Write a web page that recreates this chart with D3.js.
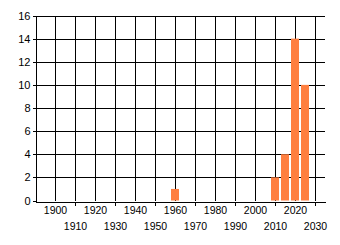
<!DOCTYPE html>
<html>
<head>
<meta charset="utf-8">
<script src="https://cdn.jsdelivr.net/npm/d3@7"></script>
<style>
  body { margin: 0; background: #fff; }
</style>
</head>
<body>
<div id="chart"></div>
<script>
// bar data
const years = [1960, 2010, 2015, 2020, 2025];
const counts = [1, 2, 4, 14, 10];

const yTicks = [0, 2, 4, 6, 8, 10, 12, 14, 16];
const xTicks = [1900, 1910, 1920, 1930, 1940, 1950, 1960, 1970, 1980, 1990, 2000, 2010, 2020, 2030];

const width = 340, height = 245;
const barYears = 4;
const font = "Liberation Sans, Arial, sans-serif";

let svg = d3.select("#chart")
  .append("svg")
  .attr("width", width)
  .attr("height", height);

let x = d3.scaleLinear().domain([1890, 2035]).range([35, 325]);
let y = d3.scaleLinear().domain([0, 16]).range([200.5, 15.5]);

// grid
let grid = svg.append("g").attr("shape-rendering", "crispEdges");
grid.selectAll("line.h")
  .data(yTicks.slice(1))
  .join("line")
  .attr("x1", x(1890)).attr("x2", x(2035))
  .attr("y1", d => Math.round(y(d)) + 0.5).attr("y2", d => Math.round(y(d)) + 0.5)
  .attr("stroke", "#000");
grid.selectAll("line.v")
  .data(xTicks)
  .join("line")
  .attr("x1", d => Math.round(x(d)) + 0.5).attr("x2", d => Math.round(x(d)) + 0.5)
  .attr("y1", y(16)).attr("y2", y(0))
  .attr("stroke", "#000");

// bars
svg.append("g")
  .selectAll("rect")
  .data(years)
  .join("rect")
  .attr("x", d => x(d - barYears / 2))
  .attr("width", x(barYears) - x(0))
  .attr("y", (d, i) => y(counts[i]))
  .attr("height", (d, i) => y(0) - y(counts[i]))
  .attr("fill", "#ff7f40");

// y axis
let yAxis = svg.append("g")
  .attr("transform", "translate(35.5,0)")
  .call(d3.axisLeft(y).tickValues(yTicks).tickSize(3).tickPadding(2).tickFormat(d3.format("d")));
yAxis.attr("font-family", font).attr("font-size", 11);
yAxis.select(".domain").attr("stroke", "#000").attr("shape-rendering", "crispEdges");
yAxis.selectAll(".tick line").attr("stroke", "#000").attr("shape-rendering", "crispEdges");
yAxis.selectAll(".tick text").attr("fill", "#000");

// x axis, labels staggered on two rows
let xAxis = svg.append("g")
  .attr("transform", "translate(0," + (Math.round(y(0)) + 0.5) + ")")
  .call(d3.axisBottom(x).tickValues(xTicks).tickSizeOuter(0).tickSize(0).tickFormat(d3.format("d")));
xAxis.attr("font-family", font).attr("font-size", 10.5);
xAxis.select(".domain").attr("stroke", "#000").attr("shape-rendering", "crispEdges");
xAxis.selectAll(".tick")
  .each(function (d, i) {
    let t = d3.select(this);
    let low = i % 2 === 1;
    t.select("line").attr("y2", low ? 4 : 0).attr("stroke", "#000").attr("shape-rendering", "crispEdges");
    t.select("text")
      .attr("y", low ? 21.5 : 5.5)
      .attr("fill", "#000");
  });
</script>
</body>
</html>
